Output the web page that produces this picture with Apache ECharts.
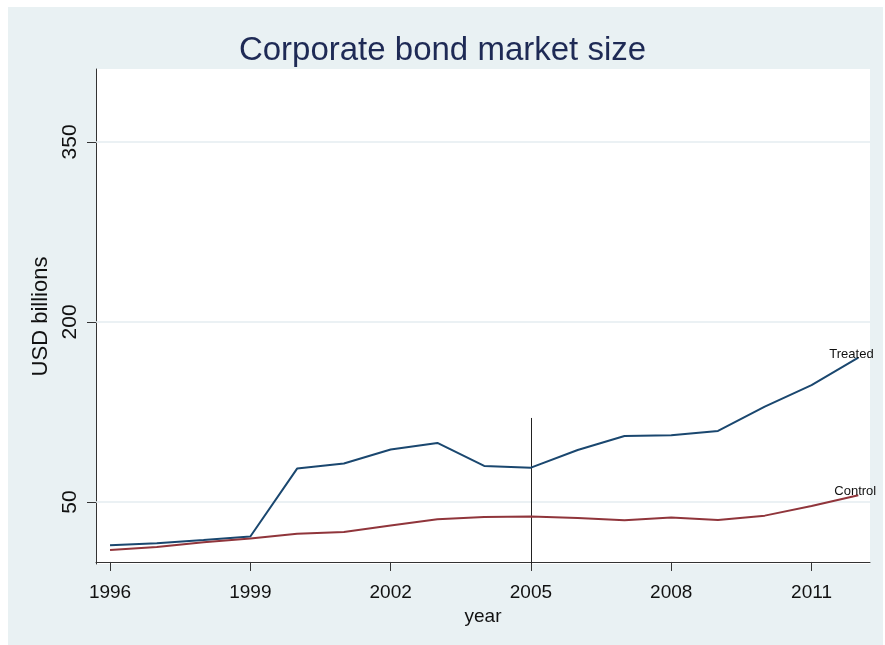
<!DOCTYPE html>
<html><head><meta charset="utf-8">
<script src="https://cdn.jsdelivr.net/npm/echarts@6/dist/echarts.min.js"></script>
<style>html,body{margin:0;padding:0;background:#fff}#c{width:885px;height:645px}</style>
</head><body><div id="c"></div>
<script>
const years = [1996,1997,1998,1999,2000,2001,2002,2003,2004,2005,2006,2007,2008,2009,2010,2011,2012];
const treated = [13.9,15.6,18.3,21.2,77.8,82,93.7,99.2,80,78.6,93.3,105,105.6,109.2,129.5,147.3,170.3];
const control = [10,12.5,16.4,19.5,23.6,25,30.3,35.6,37.5,37.8,36.7,34.8,37,35,38.6,46.7,55.6];
const xTicks = [1996,1999,2002,2005,2008,2011];
const yTicks = [50,200,350];
const refYear = 2005;
const refTop = 120;

const yMin = -1.7, yMax = 410.8;
const font = '"Liberation Sans", Arial, sans-serif';
const chart = echarts.init(document.getElementById('c'));
chart.setOption({
  backgroundColor: '#ffffff',
  animation: false,
  graphic: [{type:'rect', shape:{x:8,y:7,width:875,height:638}, style:{fill:'#e9f1f3'}, z:-10, silent:true},
            {type:'rect', shape:{x:96,y:69,width:774,height:495}, style:{fill:'#ffffff'}, z:-9, silent:true}],
  title: {text:'Corporate bond market size', left:'center', top:29,
    textStyle:{fontFamily:font, fontSize:33, fontWeight:'normal', color:'#1e2a55'}},
  grid: {left:96, right:15, top:69, bottom:81},
  xAxis: {type:'value', min:1995.7, max:2012.25,
    name:'year', nameLocation:'middle', nameGap:42,
    nameTextStyle:{fontFamily:font, fontSize:19, color:'#111'},
    axisLine:{lineStyle:{color:'#333', width:1}},
    axisTick:{customValues:xTicks, length:9, lineStyle:{color:'#333'}},
    axisLabel:{customValues:xTicks, formatter: v => String(v), fontFamily:font, fontSize:19, color:'#111', margin:19},
    splitLine:{show:false}},
  yAxis: {type:'value', min:yMin, max:yMax,
    name:'USD billions', nameLocation:'middle', nameGap:34,
    nameTextStyle:{fontFamily:font, fontSize:22, color:'#111'},
    axisLine:{show:true, lineStyle:{color:'#333', width:1}},
    axisTick:{show:true, customValues:yTicks, length:9, lineStyle:{color:'#333'}},
    axisLabel:{customValues:yTicks, formatter: v => String(v), rotate:90, fontFamily:font, fontSize:21, color:'#111', margin:15},
    splitLine:{show:false}},
  series: [
    {type:'line', data:[], z:1, silent:true,
     markLine:{silent:true, symbol:'none', z:1, label:{show:false},
       data: yTicks.map(v => ({yAxis:v, lineStyle:{color:'#e4edf0', width:1.5, type:'solid'}})).concat([
         [{coord:[refYear, yMin], lineStyle:{color:'#222', width:1, type:'solid'}}, {coord:[refYear, refTop]}]
       ])}},
    {type:'line', name:'Treated', data:years.map((y,i)=>[y,treated[i]]), showSymbol:false, z:5,
     lineStyle:{color:'#1a476f', width:2}, itemStyle:{color:'#1a476f'},
     endLabel:{show:true, formatter:'Treated', fontFamily:font, fontSize:13, color:'#111', offset:[-37,-3]}},
    {type:'line', name:'Control', data:years.map((y,i)=>[y,control[i]]), showSymbol:false, z:5,
     lineStyle:{color:'#90353b', width:2}, itemStyle:{color:'#90353b'},
     endLabel:{show:true, formatter:'Control', fontFamily:font, fontSize:13, color:'#111', offset:[-32,-4]}}
  ]
});
</script></body></html>
